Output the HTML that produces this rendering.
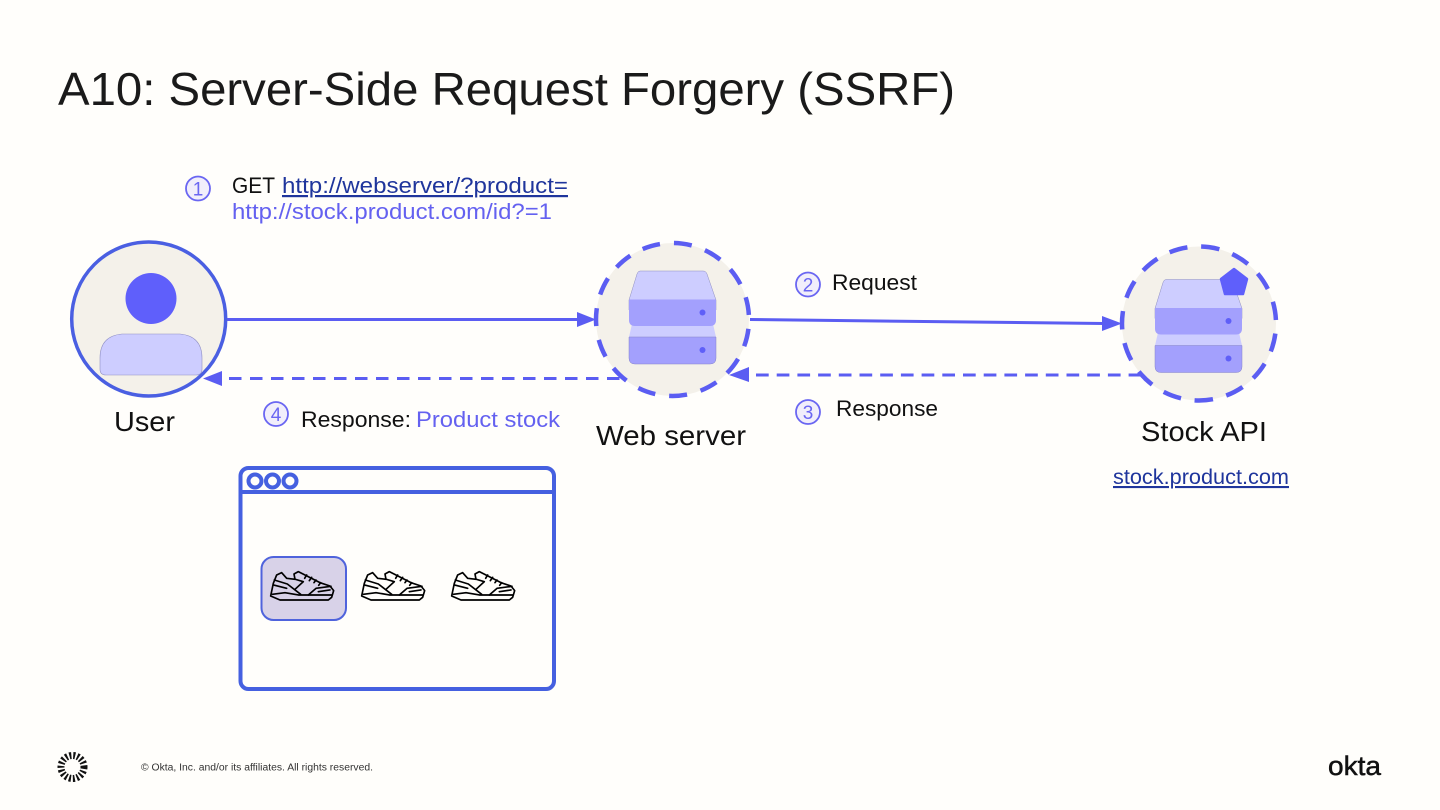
<!DOCTYPE html>
<html lang="en">
<head>
<meta charset="utf-8">
<title>A10: Server-Side Request Forgery (SSRF)</title>
<style>
html,body{margin:0;padding:0;width:1440px;height:810px;overflow:hidden;background:#fffefb}
svg{display:block}
text{font-family:"Liberation Sans",sans-serif;fill:#111}
</style>
</head>
<body>
<svg width="1440" height="810" viewBox="0 0 1440 810" xmlns="http://www.w3.org/2000/svg">
<defs>
<g id="srv">
  <path d="M640 271H703Q706 271 707 274L716 300V310H629V300L637 274Q638 271 640 271Z" fill="#cdcdff" stroke="#8d8dc0" stroke-width=".5"/>
  <path d="M632 324H713L716 337V340H629V337Z" fill="#cdcdff"/>
  <path d="M629 299.500H716V320Q716 326 710 326H635Q629 326 629 320Z" fill="#a3a0fd"/>
  <path d="M629 337H716V358Q716 364 710 364H635Q629 364 629 358V337Z" fill="#a3a0fd" stroke="#8583c8" stroke-width=".5"/>
  <circle cx="702.500" cy="312.500" r="3" fill="#5f5ff8"/>
  <circle cx="702.500" cy="350" r="3" fill="#5f5ff8"/>
</g>
<g id="shoe" fill="none" stroke="#000" stroke-width="5" stroke-linejoin="round" stroke-linecap="round">
  <path d="M122 408L130 370L140 345L155 338L170 355L195 358L192 342L205 335L225 345L270 368L300 378L311 392L305 412L295 420L150 420Z"/>
  <path d="M127 403L165 398L205 405L305 405"/>
  <path d="M133 360L172 372L212 403"/>
  <path d="M130 375L170 385"/>
  <path d="M193 357L220 365L195 388"/>
  <path d="M235 405L258 385L303 379"/>
  <path d="M265 395L300 390"/>
  <path d="M230 345L224 355M245 352L238 362M258 360L252 368M272 368L266 376"/>
</g>
</defs>

<text x="58" y="105" font-size="46" textLength="897" lengthAdjust="spacingAndGlyphs" style="fill:#1a1a1a">A10: Server-Side Request Forgery (SSRF)</text>

<!-- step 1 -->
<circle cx="198" cy="188.500" r="12" fill="#f1eefb" stroke="#6a66f2" stroke-width="1.800"/>
<text x="198" y="195.500" font-size="19" text-anchor="middle" style="fill:#6a66f2">1</text>
<text x="232" y="193" font-size="22" textLength="43" lengthAdjust="spacingAndGlyphs">GET</text>
<text x="282" y="193" font-size="22" textLength="286" lengthAdjust="spacingAndGlyphs" text-decoration="underline" style="fill:#1f359c">http://webserver/?product=</text>
<text x="232" y="219" font-size="22" textLength="320" lengthAdjust="spacingAndGlyphs" style="fill:#6461f0">http://stock.product.com/id?=1</text>

<!-- node backgrounds -->
<circle cx="148.700" cy="319" r="77" fill="#f4f1ea" stroke="#4a5fe2" stroke-width="3.500"/>
<circle cx="672.500" cy="319.500" r="76.500" fill="#f4f1ea"/>
<circle cx="1199" cy="323.500" r="77" fill="#f4f1ea"/>

<!-- user -->
<circle cx="151" cy="298.500" r="25.500" fill="#5f5ffb"/>
<path d="M122 334H180Q202 336 202 358V369Q202 375 196 375H106Q100 375 100 369V358Q100 336 122 334Z" fill="#cdcdff" stroke="#8f8fc4" stroke-width=".6"/>

<!-- arrows -->
<g stroke="#5b5df2" stroke-width="3" fill="none">
  <line x1="227" y1="319.500" x2="580" y2="319.500"/>
  <line x1="750" y1="319.500" x2="1104" y2="323.500"/>
  <line x1="229" y1="378.500" x2="622" y2="378.500" stroke-dasharray="12.500 8.500"/>
  <line x1="756" y1="375" x2="1145" y2="375" stroke-dasharray="12.700 8"/>
</g>
<g fill="#5b5df2">
  <path d="M596 319.500L577 312V327Z"/>
  <path d="M1122 323.500L1102 316V331Z"/>
  <path d="M203 378.500L222 371V386Z"/>
  <path d="M729 375L749 367V382Z"/>
</g>

<!-- dashed rings -->
<circle cx="672.500" cy="319.500" r="76.500" fill="none" stroke="#5b5df2" stroke-width="4.500" stroke-dasharray="18 14.040" transform="rotate(7 672.500 319.500)"/>
<circle cx="1199" cy="323.500" r="77" fill="none" stroke="#5b5df2" stroke-width="4.500" stroke-dasharray="18.500 13.750" transform="rotate(7.500 1199 323.500)"/>

<!-- servers -->
<use href="#srv"/>
<use href="#srv" x="526" y="8.500"/>
<path d="M1234 269L1247 279L1243 294H1225L1221 279Z" fill="#5f5ffb" stroke="#5f5ffb" stroke-width="2.500" stroke-linejoin="round"/>

<!-- labels -->
<circle cx="808" cy="284.500" r="12" fill="#f1eefb" stroke="#6a66f2" stroke-width="1.800"/>
<text x="808" y="291.500" font-size="19" text-anchor="middle" style="fill:#6a66f2">2</text>
<text x="832" y="290" font-size="22" textLength="85" lengthAdjust="spacingAndGlyphs">Request</text>

<circle cx="808" cy="412" r="12" fill="#f1eefb" stroke="#6a66f2" stroke-width="1.800"/>
<text x="808" y="419" font-size="19" text-anchor="middle" style="fill:#6a66f2">3</text>
<text x="836" y="416" font-size="22" textLength="102" lengthAdjust="spacingAndGlyphs">Response</text>

<circle cx="276" cy="414" r="12" fill="#f1eefb" stroke="#6a66f2" stroke-width="1.800"/>
<text x="276" y="421" font-size="19" text-anchor="middle" style="fill:#6a66f2">4</text>
<text x="301" y="427" font-size="22" textLength="110" lengthAdjust="spacingAndGlyphs">Response:</text>
<text x="416" y="427" font-size="22" textLength="144" lengthAdjust="spacingAndGlyphs" style="fill:#6461f0">Product stock</text>

<text x="114" y="431" font-size="28" textLength="61" lengthAdjust="spacingAndGlyphs">User</text>
<text x="596" y="445" font-size="28" textLength="150" lengthAdjust="spacingAndGlyphs">Web server</text>
<text x="1141" y="441" font-size="28" textLength="126" lengthAdjust="spacingAndGlyphs">Stock API</text>
<text x="1113" y="484" font-size="21" textLength="176" lengthAdjust="spacingAndGlyphs" text-decoration="underline" style="fill:#1f359c">stock.product.com</text>

<!-- browser window -->
<rect x="240.500" y="468" width="313.500" height="221" rx="8" fill="#fffefb" stroke="#4560e0" stroke-width="4"/>
<line x1="240" y1="492" x2="554" y2="492" stroke="#4560e0" stroke-width="4"/>
<g fill="none" stroke="#4560e0" stroke-width="4">
  <circle cx="255" cy="481" r="6.500"/>
  <circle cx="272.500" cy="481" r="6.500"/>
  <circle cx="290" cy="481" r="6.500"/>
</g>
<rect x="261.500" y="557" width="84.500" height="63" rx="12" fill="#d8d2e8" stroke="#4f63dc" stroke-width="2"/>
<use href="#shoe" transform="translate(230 460) scale(.3333)"/>
<use href="#shoe" transform="translate(321 460) scale(.3333)"/>
<use href="#shoe" transform="translate(411 460) scale(.3333)"/>

<!-- footer -->
<circle cx="72.500" cy="767" r="11.500" fill="none" stroke="#111" stroke-width="7" stroke-dasharray="2 1.900"/>
<text x="141" y="770.500" font-size="10" textLength="232" lengthAdjust="spacingAndGlyphs" style="fill:#333">© Okta, Inc. and/or its affiliates. All rights reserved.</text>
<text x="1328" y="775" font-size="27" textLength="53" lengthAdjust="spacingAndGlyphs" stroke="#111" stroke-width=".5">okta</text>
</svg>
</body>
</html>
